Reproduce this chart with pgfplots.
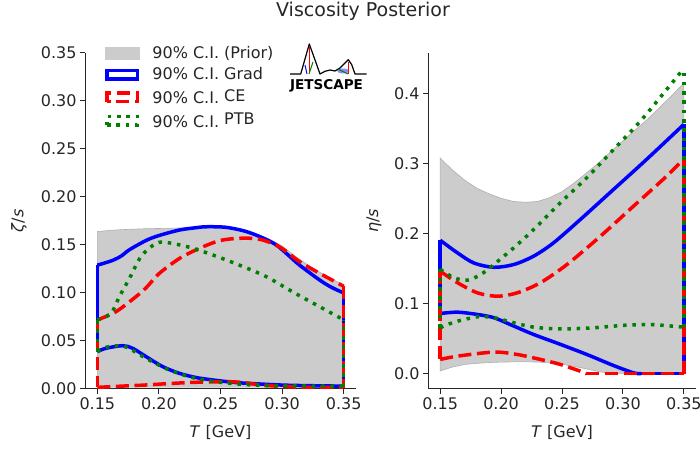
\documentclass[border=0pt]{standalone}
\usepackage{fontspec}
\setmainfont{DejaVu Sans}
\usepackage{pgfplots}
\pgfplotsset{compat=1.18}
\definecolor{txt}{HTML}{262626}
\definecolor{prior}{HTML}{CCCCCC}
\definecolor{prioredge}{HTML}{AFAFAF}
\definecolor{mplgreen}{RGB}{0,128,0}
\pgfplotsset{
  vstyle/.style={
    scale only axis, axis x line*=bottom, axis y line*=left,
    axis line style={txt, line width=1pt},
    every tick/.append style={txt, line width=1pt}, tick align=outside, major tick length=5pt,
    /pgf/number format/assume math mode=true,
    ticklabel style={font=\fontsize{16}{19}\selectfont, text=txt},
    label style={font=\fontsize{16}{19}\selectfont, text=txt},
    xmin=0.14, xmax=0.36, xtick={0.15,0.2,0.25,0.3,0.35},
    xticklabel style={/pgf/number format/.cd, fixed, fixed zerofill, precision=2},
    xlabel={\textit{T} [GeV]},
    xlabel style={at={(axis description cs:0.5,-0.128)}, anchor=center},
  },
  grad/.style={blue, line width=3.5pt, solid},
  ce/.style={red, line width=3.5pt, dash pattern=on 13pt off 5.6pt},
  ptb/.style={mplgreen, line width=3.5pt, dash pattern=on 3.5pt off 5.8pt},
}
\begin{document}
\begin{tikzpicture}
\useasboundingbox (0pt,0pt) rectangle (700pt,449pt);
\node[font=\fontsize{19}{22}\selectfont, text=txt, anchor=base] at (363pt,432.3pt) {Viscosity Posterior};

% ---------------- left: zeta/s ----------------
\begin{axis}[vstyle, at={(85pt,60pt)}, anchor=south west, width=271pt, height=336pt,
  ymin=0, ymax=0.35, ytick={0,0.05,0.1,0.15,0.2,0.25,0.3,0.35},
  yticklabel style={/pgf/number format/.cd, fixed, fixed zerofill, precision=2},
  ylabel={\textit{ζ}/\textit{s}},
  ylabel style={at={(axis description cs:-0.2435,0.5)}, anchor=center},
  legend style={draw=none, fill=none, at={(axis description cs:0.062,1.033)}, anchor=north west,
    font=\fontsize{16}{19}\selectfont, text=txt, row sep=4pt,
    /tikz/every odd column/.append style={column sep=11pt}},
  legend cell align=left]
% prior band
\addplot[fill=prior, draw=prioredge, line width=0.6pt, forget plot] coordinates {
 (0.15,0.164) (0.16,0.1652) (0.17,0.166) (0.18,0.1665) (0.19,0.167) (0.20,0.1672) (0.21,0.1675)
 (0.22,0.1678) (0.23,0.168) (0.24,0.1685) (0.25,0.1686) (0.26,0.1675) (0.27,0.165) (0.28,0.161)
 (0.29,0.156) (0.30,0.149) (0.31,0.139) (0.32,0.130) (0.33,0.122) (0.34,0.115) (0.35,0.108)
 (0.35,0.002) (0.15,0.002)} -- cycle;
% Grad
\addplot[grad, smooth, forget plot] coordinates {
 (0.15,0.129) (0.1625,0.134) (0.17,0.139) (0.176,0.145) (0.19,0.155) (0.2004,0.160)
 (0.2167,0.1656) (0.23,0.168) (0.2384,0.169) (0.2546,0.1684) (0.271,0.164) (0.285,0.157)
 (0.2953,0.150) (0.305,0.1395) (0.3142,0.129) (0.3305,0.1135) (0.34,0.106) (0.35,0.100)};
\addplot[grad, smooth, forget plot] coordinates {
 (0.15,0.0389) (0.157,0.0424) (0.1706,0.0451) (0.1787,0.0424) (0.1896,0.0337) (0.2031,0.0233)
 (0.2167,0.0163) (0.23,0.012) (0.2438,0.0094) (0.26,0.007) (0.271,0.006) (0.298,0.0042)
 (0.32,0.0035) (0.35,0.003)};
\addplot[grad, forget plot] coordinates {(0.15,0.0389) (0.15,0.129)};
\addplot[grad, forget plot] coordinates {(0.35,0.003) (0.35,0.100)};
% CE
\addplot[ce, smooth, forget plot] coordinates {
 (0.15,0.0719) (0.1652,0.0806) (0.1814,0.0962) (0.19,0.106) (0.2004,0.1205) (0.2167,0.136)
 (0.2329,0.1465) (0.2492,0.1545) (0.2654,0.157) (0.2817,0.156) (0.298,0.148) (0.3142,0.1326)
 (0.3305,0.1205) (0.35,0.107)};
\addplot[ce, smooth, forget plot] coordinates {
 (0.15,0.0017) (0.17,0.003) (0.1896,0.0042) (0.21,0.0058) (0.23,0.007) (0.257,0.0076)
 (0.27,0.0065) (0.284,0.004) (0.3115,0.002) (0.35,0.0015)};
\addplot[ce, forget plot] coordinates {(0.15,0.0719) (0.15,0.0017)};
\addplot[ce, forget plot] coordinates {(0.35,0.107) (0.35,0.0015)};
% PTB
\addplot[ptb, smooth, forget plot] coordinates {
 (0.15,0.072) (0.1611,0.0788) (0.1679,0.0962) (0.176,0.115) (0.1855,0.138) (0.1977,0.1517)
 (0.2072,0.1524) (0.2248,0.1476) (0.2438,0.1396) (0.2654,0.129) (0.2872,0.117) (0.3088,0.101)
 (0.3305,0.0857) (0.35,0.072)};
\addplot[ptb, smooth, forget plot] coordinates {
 (0.15,0.039) (0.157,0.0434) (0.1676,0.0451) (0.1756,0.0424) (0.1896,0.0319) (0.2085,0.0198)
 (0.23,0.0111) (0.257,0.006) (0.29,0.0035) (0.35,0.003)};
\addplot[ptb, forget plot] coordinates {(0.15,0.039) (0.15,0.072)};
\addplot[ptb, forget plot] coordinates {(0.35,0.003) (0.35,0.072)};
% legend
\addlegendimage{legend image code/.code={\fill[prior] (0pt,-6pt) rectangle (34pt,6pt);}}
\addlegendentry{90\% C.I. (Prior)}
\addlegendimage{legend image code/.code={\draw[blue, line width=3.5pt] (1.75pt,-4.25pt) rectangle (32.25pt,4.25pt);}}
\addlegendentry{90\% C.I. Grad}
\addlegendimage{legend image code/.code={\draw[red, line width=3.5pt, dash pattern=on 13pt off 5.6pt] (1.75pt,-4.25pt) rectangle (32.25pt,4.25pt);}}
\addlegendentry{90\% C.I.\hspace{5pt}\raisebox{2.3pt}{CE}}
\addlegendimage{legend image code/.code={\draw[mplgreen, line width=3.5pt, dash pattern=on 3.5pt off 5.8pt] (1.75pt,-4.25pt) rectangle (32.25pt,4.25pt);}}
\addlegendentry{90\% C.I.\hspace{5pt}\raisebox{2.3pt}{PTB}}
\end{axis}

% ---------------- right: eta/s ----------------
\begin{axis}[vstyle, at={(428pt,60pt)}, anchor=south west, width=268pt, height=336pt,
  ymin=-0.0218, ymax=0.458, ytick={0,0.1,0.2,0.3,0.4},
  yticklabel style={/pgf/number format/.cd, fixed, fixed zerofill, precision=1},
  ylabel={\textit{η}/\textit{s}},
  ylabel style={at={(axis description cs:-0.2015,0.5)}, anchor=center}]
\addplot[fill=prior, draw=prioredge, line width=0.6pt, forget plot] coordinates {
 (0.15,0.308) (0.16,0.291) (0.17,0.2765) (0.18,0.265) (0.19,0.257) (0.20,0.2505) (0.21,0.246)
 (0.22,0.2448) (0.23,0.246) (0.24,0.2515) (0.25,0.260) (0.26,0.2725) (0.27,0.2865) (0.28,0.301)
 (0.29,0.317) (0.30,0.3325) (0.31,0.348) (0.32,0.363) (0.33,0.380) (0.34,0.397) (0.35,0.415)
 (0.35,0) (0.34,0) (0.30,0) (0.29,0.0005) (0.28,0.003) (0.27,0.007) (0.26,0.0105) (0.25,0.0135)
 (0.24,0.0155) (0.23,0.0167) (0.22,0.017) (0.21,0.0169) (0.20,0.0166) (0.19,0.016) (0.18,0.0148)
 (0.17,0.0133) (0.16,0.0095) (0.15,0.004)} -- cycle;
% Grad
\addplot[grad, smooth] coordinates {
 (0.15,0.1906) (0.1642,0.1726) (0.1778,0.158) (0.1941,0.152) (0.2105,0.156) (0.2268,0.168)
 (0.2431,0.187) (0.2649,0.220) (0.2922,0.263) (0.3194,0.306) (0.35,0.356)};
\addplot[grad, smooth] coordinates {
 (0.15,0.086) (0.1642,0.0879) (0.1806,0.0846) (0.1941,0.080) (0.2105,0.068) (0.2268,0.056)
 (0.2486,0.042) (0.2704,0.0275) (0.2922,0.0118) (0.3085,0.0014) (0.315,0)};
\addplot[grad] coordinates {(0.315,0) (0.35,0)};
\addplot[grad] coordinates {(0.15,0.086) (0.15,0.1906)};
\addplot[grad] coordinates {(0.35,0) (0.35,0.356)};
% CE
\addplot[ce, smooth] coordinates {
 (0.15,0.1464) (0.1642,0.13) (0.1806,0.1155) (0.1969,0.1107) (0.2132,0.1155) (0.2323,0.13)
 (0.2541,0.156) (0.2813,0.196) (0.3085,0.239) (0.3358,0.282) (0.35,0.307)};
\addplot[ce, smooth] coordinates {
 (0.15,0.0204) (0.1642,0.0251) (0.1941,0.0309) (0.2132,0.0275) (0.2323,0.0204) (0.2486,0.0133)
 (0.2649,0.0037) (0.27,0)};
\addplot[ce] coordinates {(0.27,0) (0.35,0)};
\addplot[ce] coordinates {(0.15,0.1464) (0.15,0.0204)};
\addplot[ce] coordinates {(0.35,0) (0.35,0.307)};
% PTB
\addplot[ptb, smooth] coordinates {
 (0.15,0.149) (0.1614,0.137) (0.1724,0.1336) (0.1833,0.1417) (0.1941,0.156) (0.2105,0.18)
 (0.2268,0.206) (0.2486,0.244) (0.2704,0.28) (0.2922,0.32) (0.314,0.36) (0.3358,0.4056) (0.35,0.436)};
\addplot[ptb, smooth] coordinates {
 (0.15,0.0656) (0.1614,0.0736) (0.1806,0.0813) (0.1941,0.080) (0.2105,0.0727) (0.2268,0.0665)
 (0.2486,0.064) (0.2758,0.0656) (0.3031,0.0694) (0.3249,0.070) (0.35,0.0665)};
\addplot[ptb] coordinates {(0.15,0.0656) (0.15,0.149)};
\addplot[ptb] coordinates {(0.35,0.0665) (0.35,0.436)};
\end{axis}

% ---------------- JETSCAPE logo (decoration) ----------------
\begin{scope}[x=1pt,y=1pt]
\fill[blue!45] (343,378) ellipse (6 and 2.5);
\draw[black, line width=1.2pt, line join=round]
 (290,375) -- (300.7,375) -- (309.3,405) -- (320,375) -- (325,377.7) -- (330,379) -- (335,378)
 -- (340,381) -- (345,386) -- (348.3,389.3) -- (351.7,384.3) -- (355,375) -- (366.7,375);
\draw[red, line width=1pt] (309,403) -- (309,376);
\draw[blue, line width=1pt] (305,384) -- (307,375);
\draw[mplgreen, line width=1pt] (309,375) -- (313,387);
\draw[red, line width=1pt] (348,387) -- (348,375);
\draw[mplgreen, line width=1pt] (338,380) -- (348,375);
\node[inner sep=0pt, anchor=center] at (326.5,363.3)
 {\resizebox{73pt}{10pt}{\bfseries JETSCAPE}};
\end{scope}
\end{tikzpicture}
\end{document}
